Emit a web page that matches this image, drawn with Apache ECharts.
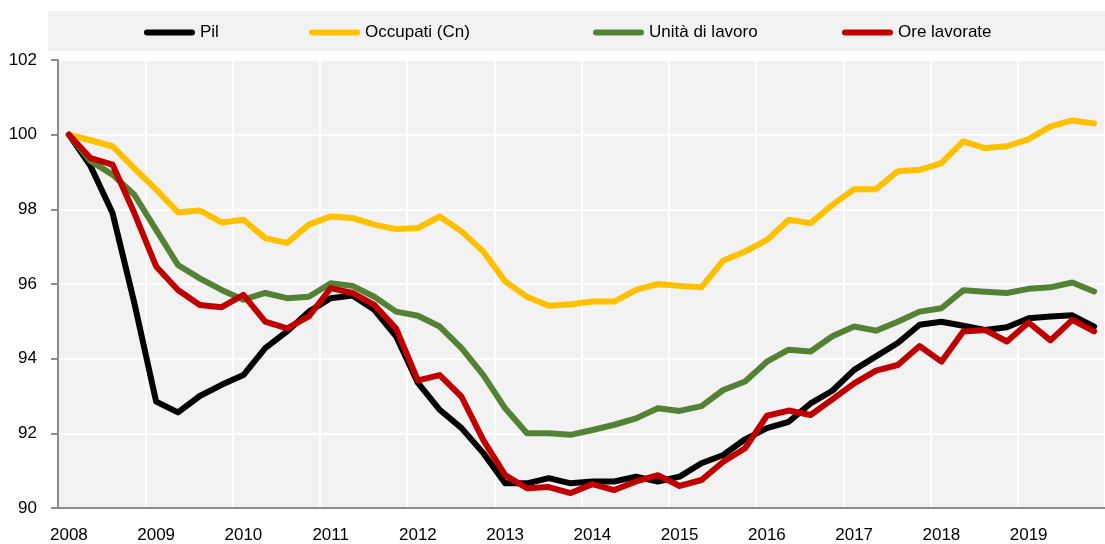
<!DOCTYPE html>
<html>
<head>
<meta charset="utf-8">
<script src="https://cdn.jsdelivr.net/npm/echarts@6/dist/echarts.min.js"></script>
<style>
  html, body { margin: 0; padding: 0; background: #fff; }
  #chart { width: 1105px; height: 544px; }
</style>
</head>
<body>
<div id="chart"></div>
<script type="text/javascript">
// anni e trimestri (2008 T1 - 2019 T4)
var anni = ['2008','2009','2010','2011','2012','2013','2014','2015','2016','2017','2018','2019'];
var trimestri = ['T1','T2','T3','T4'];

// indici, 2008 T1 = 100
var pil = [100, 99.15, 97.9, 95.49, 92.85, 92.56, 93.0, 93.3, 93.56, 94.28, 94.73, 95.26,
           95.62, 95.69, 95.31, 94.6, 93.35, 92.63, 92.14, 91.47, 90.66, 90.66, 90.8, 90.66,
           90.71, 90.71, 90.84, 90.71, 90.84, 91.2, 91.42, 91.84, 92.14, 92.31, 92.8, 93.14,
           93.7, 94.06, 94.42, 94.91, 94.99, 94.88, 94.77, 94.84, 95.08, 95.13, 95.16, 94.86];
var occupati = [100, 99.85, 99.69, 99.1, 98.53, 97.92, 97.97, 97.65, 97.72, 97.23, 97.1, 97.59,
                97.81, 97.77, 97.59, 97.47, 97.5, 97.81, 97.41, 96.87, 96.07, 95.66, 95.42, 95.46,
                95.53, 95.53, 95.84, 96.0, 95.95, 95.91, 96.63, 96.87, 97.18, 97.72, 97.63, 98.12,
                98.54, 98.54, 99.02, 99.06, 99.24, 99.82, 99.64, 99.69, 99.88, 100.22, 100.38, 100.3];
var unitaLavoro = [100, 99.29, 98.93, 98.39, 97.45, 96.51, 96.15, 95.84, 95.58, 95.76, 95.62, 95.66,
                   96.02, 95.95, 95.66, 95.26, 95.15, 94.86, 94.28, 93.56, 92.67, 92.0, 92.0, 91.96,
                   92.09, 92.23, 92.4, 92.67, 92.6, 92.73, 93.16, 93.39, 93.92, 94.24, 94.19, 94.6,
                   94.86, 94.75, 94.99, 95.26, 95.35, 95.83, 95.79, 95.76, 95.87, 95.91, 96.04, 95.8];
var oreLavorate = [100, 99.37, 99.2, 97.9, 96.47, 95.84, 95.44, 95.38, 95.71, 94.99, 94.81, 95.13,
                   95.89, 95.76, 95.44, 94.81, 93.42, 93.56, 92.98, 91.82, 90.88, 90.53, 90.56, 90.4,
                   90.64, 90.48, 90.71, 90.88, 90.59, 90.75, 91.24, 91.6, 92.47, 92.61, 92.49, 92.91,
                   93.34, 93.68, 93.83, 94.34, 93.92, 94.73, 94.77, 94.46, 94.97, 94.49, 95.04, 94.73];

var categorie = [];
for (var i = 0; i < anni.length; i++) {
    for (var j = 0; j < trimestri.length; j++) {
        categorie.push(anni[i] + ' ' + trimestri[j]);
    }
}

var font = '"Liberation Sans", Arial, sans-serif';
var icona = 'path://M3,0 L49,0 A3,3 0 0 1 49,6 L3,6 A3,3 0 0 1 3,0 Z';

function legenda(nome, x) {
    return {
        data: [nome],
        left: x,
        top: 19,
        icon: icona,
        itemWidth: 51,
        itemHeight: 6,
        textStyle: { fontFamily: font, fontSize: 17, color: '#000' }
    };
}

function serie(nome, dati, colore) {
    return {
        name: nome,
        type: 'line',
        data: dati,
        symbol: 'none',
        smooth: false,
        color: colore,
        lineStyle: { width: 6, color: colore, cap: 'round', join: 'round' },
        emphasis: { disabled: true }
    };
}

var myChart = echarts.init(document.getElementById('chart'));
var option = {
    animation: false,
    backgroundColor: '#fff',
    graphic: [{
        type: 'rect',
        shape: { x: 48, y: 11, width: 1060, height: 40 },
        style: { fill: '#f2f2f2' },
        z: -10
    }],
    legend: [
        legenda('Pil', 139),
        legenda('Occupati (Cn)', 304),
        legenda('Unità di lavoro', 588),
        legenda('Ore lavorate', 837)
    ],
    grid: {
        left: 58, right: -11, top: 60, bottom: 36,
        show: true,
        backgroundColor: '#f2f2f2',
        borderWidth: 0
    },
    xAxis: {
        type: 'category',
        data: categorie,
        boundaryGap: true,
        axisLine: { lineStyle: { color: '#8c8c8c', width: 2 } },
        axisTick: { show: false },
        axisLabel: {
            interval: 3,
            margin: 19,
            fontFamily: font, fontSize: 17, color: '#000',
            formatter: function (v) { return v.split(' ')[0]; }
        },
        splitLine: { show: true, interval: 3, lineStyle: { color: '#fff', width: 2 } }
    },
    yAxis: {
        type: 'value',
        min: 90, max: 102, interval: 2,
        axisLine: { show: true, lineStyle: { color: '#8c8c8c', width: 2 } },
        axisTick: { show: true, length: 7, lineStyle: { color: '#8c8c8c', width: 2 } },
        axisLabel: { margin: 21, fontFamily: font, fontSize: 17, color: '#000' },
        splitLine: { show: true, lineStyle: { color: '#fff', width: 2 } }
    },
    series: [
        serie('Pil', pil, '#000000'),
        serie('Occupati (Cn)', occupati, '#ffc000'),
        serie('Unità di lavoro', unitaLavoro, '#548235'),
        serie('Ore lavorate', oreLavorate, '#c00000')
    ]
};
myChart.setOption(option);
</script>
</body>
</html>
